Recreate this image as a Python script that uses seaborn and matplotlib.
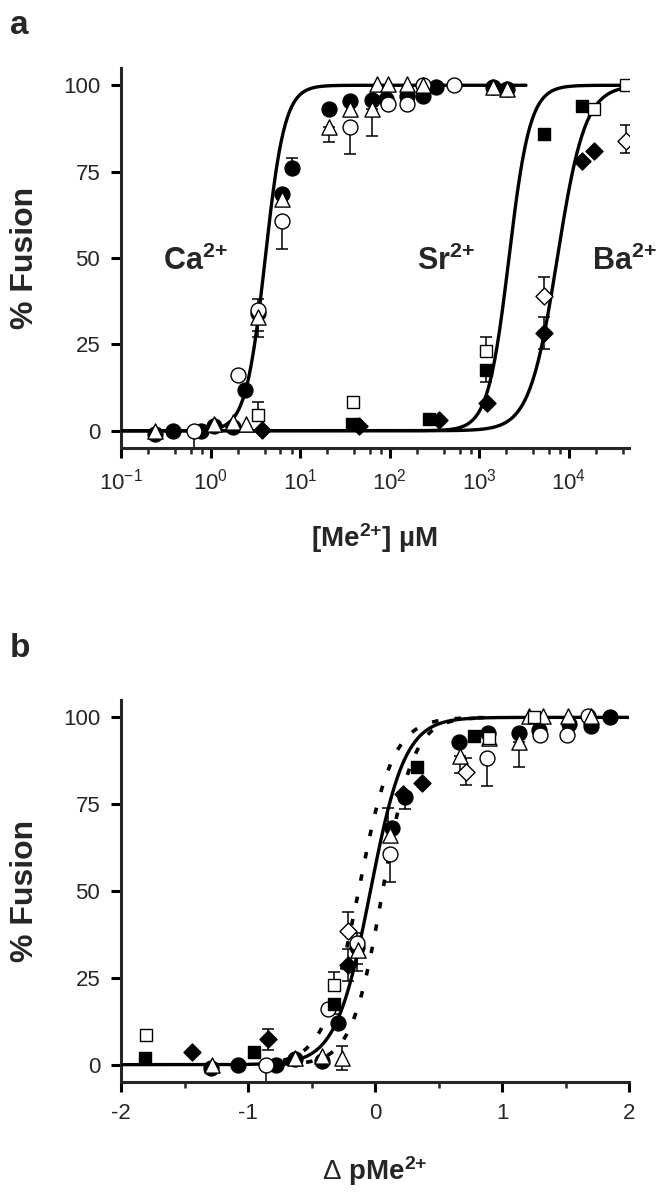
import numpy as np
import pandas as pd
import matplotlib
matplotlib.use("Agg")
import matplotlib.pyplot as plt
import matplotlib.ticker as mticker
import seaborn as sns

# ---------------- panel a : [Me2+] (uM) vs % fusion ----------------
ca_filled_c = [0.24, 0.385, 0.78, 1.1, 1.76, 2.4, 3.4, 6.3, 8.1, 21, 36, 63, 91, 155, 234, 331, 1410, 2040]
ca_filled_y = [-1, 0, 0, 1.5, 1, 11.8, 34, 68.4, 76, 93, 95.5, 95.6, 96, 97, 96.8, 99.5, 99.5, 99]
ca_open_c = [0.65, 2.0, 3.4, 6.3, 36, 95, 155, 234, 525]
ca_open_y = [0, 16, 35, 60.7, 88, 94.6, 94.6, 100, 100]
ca_tri_c = [0.24, 1.1, 1.76, 2.5, 3.4, 6.3, 21, 36, 63, 72, 95, 155, 234, 1410, 2040]
ca_tri_y = [0, 2, 2.6, 2, 33, 67, 88, 93, 93, 100.5, 100.5, 100.5, 100, 99.5, 99]
sr_filled_c = [38, 275, 1175, 5250, 14100]
sr_filled_y = [2, 3.5, 17.6, 86, 94]
sr_open_c = [3.4, 39, 1175, 19000, 43600]
sr_open_y = [4.5, 8.4, 23, 93, 100]
ba_filled_c = [3.7, 45, 355, 1230, 5250, 14100, 19000]
ba_filled_y = [0.2, 1.5, 3, 8, 28.4, 78, 81]
ba_open_c = [5250, 43600]
ba_open_y = [39, 84]

# error bars a: conc, y, lower, upper
err_a_c = [0.65, 3.4, 3.4, 3.4, 6.3, 8.1, 21, 36, 63, 95, 155, 234, 525, 2040,
           1175, 1175, 5250, 5250, 43600]
err_a_y = [0, 35, 34, 4.5, 60.7, 76, 88, 88, 93, 94.6, 94.6, 100, 100, 99,
           23, 17.6, 39, 28.4, 84]
err_a_lo = [6, 8, 5, 0, 8.2, 0, 4.5, 8, 7.7, 1.5, 1.5, 1.5, 1.5, 1.5, 0, 3.6, 0, 4.6, 3.5]
err_a_hi = [0, 3, 0, 3.7, 0, 3, 0, 0, 0, 0, 0, 0, 0, 0, 4, 0, 5.6, 4.6, 4.6]

# Hill fits (log10 EC50 in uM, Hill coefficient)
fit_logec50 = {"Ca": 0.61, "Sr": 3.33, "Ba": 3.87}
fit_hill = {"Ca": 4.0, "Sr": 3.7, "Ba": 2.8}
fit_range = {"Ca": (-1, 3.52), "Sr": (-1, 4.64), "Ba": (-1, 4.64)}
ion_labels = ["Ca", "Sr", "Ba"]
ion_label_logx = [-0.53, 2.30, 4.26]

# ---------------- panel b : delta pMe2+ vs % fusion ----------------
b_ca_filled_x = [-1.29, -1.08, -0.78, -0.63, -0.42, -0.29, -0.14, 0.13, 0.24, 0.66, 0.89, 1.13, 1.29, 1.53, 1.70, 1.85]
b_ca_filled_y = [-1, 0, 0, 1.5, 1, 12, 34, 68, 77, 93, 95.5, 95.6, 96.5, 98, 97.5, 100]
b_ca_open_x = [-0.86, -0.37, -0.14, 0.12, 0.88, 1.30, 1.51, 1.68]
b_ca_open_y = [0, 16, 35, 60.7, 88.3, 95, 95, 100.5]
b_ca_tri_x = [-1.28, -0.63, -0.42, -0.26, -0.13, 0.12, 0.67, 0.90, 1.13, 1.21, 1.32, 1.52, 1.70]
b_ca_tri_y = [0, 2, 2.6, 2, 33, 66, 88.8, 94, 93, 100.5, 100.5, 100.5, 100.5]
b_sr_filled_x = [-1.81, -0.95, -0.32, 0.33, 0.78]
b_sr_filled_y = [2, 3.5, 17.6, 85.8, 94.5]
b_sr_open_x = [-1.80, -0.32, 0.90, 1.25]
b_sr_open_y = [8.4, 23, 94, 100]
b_ba_filled_x = [-1.44, -0.84, -0.21, 0.22, 0.37]
b_ba_filled_y = [3.5, 7.3, 28.7, 78, 81]
b_ba_open_x = [-0.21, 0.72]
b_ba_open_y = [38.4, 84.4]

err_b_x = [-0.86, -0.14, -0.14, -0.26, 0.12, 0.24, 0.10, 0.67, 0.72, 0.88, 1.13,
           -0.32, -0.32, -0.21, -0.21, 1.30, 1.51, 1.68, -0.84]
err_b_y = [0, 35, 34, 2, 60.7, 77, 68, 88.8, 84.4, 88.3, 93,
           23, 17.6, 38.4, 28.7, 95, 95, 100.5, 7.3]
err_b_lo = [6, 8, 5, 3.5, 8.2, 3.5, 0, 4.8, 4, 8, 7.2, 0, 3, 0, 4.5, 1.5, 1.5, 1.5, 3]
err_b_hi = [0, 3, 0, 3.5, 0, 0, 6, 0, 4, 0, 0, 3.7, 0, 5.6, 4.5, 0, 0, 0, 3]

# fits in panel b: (midpoint, slope)
b_solid = (-0.036, 3.2)
b_dotted = [(-0.13, 3.2), (0.06, 3.6)]


def hill(logx, mid, n):
    return 100.0 / (1.0 + 10.0 ** (-n * (logx - mid)))


sns.set_theme(style="ticks")
plt.rcParams["font.family"] = ["Liberation Sans", "DejaVu Sans"]
plt.rcParams["mathtext.fontset"] = "custom"
plt.rcParams["mathtext.rm"] = "Liberation Sans"
plt.rcParams["mathtext.bf"] = "Liberation Sans:bold"
plt.rcParams["mathtext.it"] = "Liberation Sans:italic"
plt.rcParams["axes.unicode_minus"] = False

fig = plt.figure(figsize=(6.69, 11.99), dpi=100)
ax_a = fig.add_axes([121 / 669, 1 - 448 / 1199, 508 / 669, 380 / 1199])
ax_b = fig.add_axes([121 / 669, 1 - 1082 / 1199, 508 / 669, 382 / 1199])

ms = dict(edgecolor="black", linewidth=1.0, zorder=4, legend=False)


def draw_points(ax, groups):
    for xs, ys, marker, face, size in groups:
        sns.scatterplot(x=xs, y=ys, marker=marker, color=face, s=size, ax=ax, **ms)


def draw_err(ax, xs, ys, lo, hi):
    ax.errorbar(xs, ys, yerr=[lo, hi], fmt="none", ecolor="black",
                elinewidth=1.1, capsize=4.5, capthick=1.1, zorder=2)


sup = r"$^{\mathbf{2{+}}}$"

# ---- panel a
for ion in ion_labels:
    lx = np.linspace(fit_range[ion][0], fit_range[ion][1], 400)
    sns.lineplot(x=10 ** lx, y=hill(lx, fit_logec50[ion], fit_hill[ion]),
                 color="black", linewidth=2.4, ax=ax_a, zorder=3, sort=False)
draw_err(ax_a, err_a_c, err_a_y, err_a_lo, err_a_hi)
draw_points(ax_a, [
    (ca_filled_c, ca_filled_y, "o", "black", 115),
    (ca_open_c, ca_open_y, "o", "white", 115),
    (ca_tri_c, ca_tri_y, "^", "white", 120),
    (sr_filled_c, sr_filled_y, "s", "black", 80),
    (sr_open_c, sr_open_y, "s", "white", 80),
    (ba_filled_c, ba_filled_y, "D", "black", 75),
    (ba_open_c, ba_open_y, "D", "white", 75),
])
ax_a.set_xscale("log")
ax_a.set_xlim(0.1, 10 ** 4.67)
ax_a.xaxis.set_major_locator(mticker.LogLocator(base=10, numticks=10))
ax_a.xaxis.set_minor_locator(mticker.LogLocator(base=10, subs=[2, 4, 6, 8], numticks=20))
ax_a.xaxis.set_minor_formatter(mticker.NullFormatter())
for name, lx in zip(ion_labels, ion_label_logx):
    ax_a.text(10 ** lx, 49, name + sup, fontsize=22, fontweight="bold",
              ha="left", va="center")
ax_a.set_xlabel(r"[Me" + sup + r"] µM", fontsize=20, fontweight="bold", labelpad=19)

# ---- panel b
lb = np.linspace(-2, 2, 400)
for mid, n in b_dotted:
    ld = np.linspace(-0.9, 0.9, 200)
    sns.lineplot(x=ld, y=hill(ld, mid, n), color="black", linewidth=2.6,
                 linestyle=(0, (1.8, 4.5)), ax=ax_b, zorder=2, sort=False)
sns.lineplot(x=lb, y=hill(lb, *b_solid), color="black", linewidth=2.4, ax=ax_b,
             zorder=3, sort=False)
draw_err(ax_b, err_b_x, err_b_y, err_b_lo, err_b_hi)
draw_points(ax_b, [
    (b_ca_filled_x, b_ca_filled_y, "o", "black", 115),
    (b_ca_open_x, b_ca_open_y, "o", "white", 115),
    (b_ca_tri_x, b_ca_tri_y, "^", "white", 120),
    (b_sr_filled_x, b_sr_filled_y, "s", "black", 80),
    (b_sr_open_x, b_sr_open_y, "s", "white", 80),
    (b_ba_filled_x, b_ba_filled_y, "D", "black", 75),
    (b_ba_open_x, b_ba_open_y, "D", "white", 75),
])
ax_b.set_xlim(-2, 2)
ax_b.set_xticks([-2, -1, 0, 1, 2])
ax_b.set_xticklabels(["-2", "-1", "0", "1", "2"])
ax_b.xaxis.set_minor_locator(mticker.MultipleLocator(0.5))
ax_b.set_xlabel(r"$\Delta$ pMe" + sup, fontsize=20, fontweight="bold", labelpad=22)

for ax in (ax_a, ax_b):
    ax.set_ylim(-5, 105)
    ax.set_yticks([0, 25, 50, 75, 100])
    ax.set_ylabel("% Fusion", fontsize=23, fontweight="bold")
    ax.yaxis.set_label_coords(-0.16, 0.5)
    sns.despine(ax=ax)
    for s in ("left", "bottom"):
        ax.spines[s].set_linewidth(2.2)
    ax.tick_params(axis="both", which="major", direction="out", length=7, width=2.2,
                   labelsize=16, pad=8, color="black")
    ax.tick_params(axis="x", which="minor", direction="out", length=4.5, width=1.8)
    ax.grid(False)

fig.text(0.015, 1 - 34 / 1199, "a", fontsize=24, fontweight="bold", va="baseline")
fig.text(0.015, 1 - 657 / 1199, "b", fontsize=24, fontweight="bold", va="baseline")

fig.savefig("out.png", dpi=100, facecolor="white")
